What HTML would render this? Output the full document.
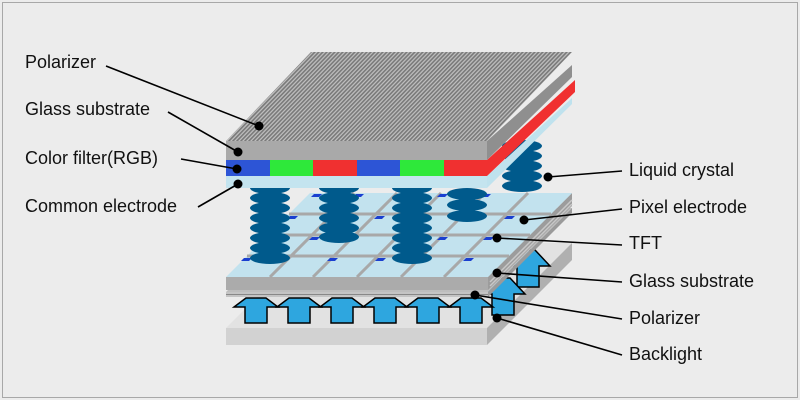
<!DOCTYPE html>
<html><head><style>
html,body{margin:0;padding:0;background:#ececec;}
svg{display:block;}
text{font-family:"Liberation Sans",Arial,sans-serif;font-size:18px;fill:#111;}
</style></head><body>
<svg width="800" height="400" viewBox="0 0 800 400" xmlns="http://www.w3.org/2000/svg">
<defs>
<pattern id="str" width="4" height="10" patternUnits="userSpaceOnUse" patternTransform="skewX(-44)">
<rect width="4" height="10" fill="#bdbdbd"/><rect width="2.2" height="10" fill="#7a7a7a"/>
</pattern>
</defs>
<rect x="0" y="0" width="800" height="400" fill="#ececec"/>
<rect x="2.5" y="2.5" width="795" height="395" fill="none" stroke="#a8a8a8" stroke-width="1"/>

<!-- backlight -->
<polygon points="226,328 487,328 572,243 311,243" fill="#e2e2e2"/>
<polygon points="487,328 572,243 572,260 487,345" fill="#b0b0b0"/>
<rect x="226" y="328" width="261" height="17" fill="#d2d2d2"/>

<!-- side arrows -->
<g fill="#2ea6df" stroke="#000" stroke-width="1.5">
<polygon points="521,250 535,250 550,266 539,266 539,287 517,287 517,266 506,266"/>
<polygon points="496,278 510,278 525,294 514,294 514,315 492,315 492,294 481,294"/>
</g>
<!-- lower polarizer -->
<polygon points="226,292 488,292 572,208 310,208" fill="#bdbdbd"/>
<polygon points="488,292 572,208 572,213 488,297" fill="#9a9a9a"/>
<rect x="226" y="292" width="262" height="5" fill="#c4c4c4"/>
<line x1="226" y1="294.5" x2="488" y2="294.5" stroke="#888" stroke-width="1"/>

<!-- front arrows -->
<g fill="#2ea6df" stroke="#000" stroke-width="1.5">
<polygon points="246,298 266,298 278,307 267,307 267,323 245,323 245,307 234,307"/>
<polygon points="289,298 309,298 321,307 310,307 310,323 288,323 288,307 277,307"/>
<polygon points="332,298 352,298 364,307 353,307 353,323 331,323 331,307 320,307"/>
<polygon points="375,298 395,298 407,307 396,307 396,323 374,323 374,307 363,307"/>
<polygon points="418,298 438,298 450,307 439,307 439,323 417,323 417,307 406,307"/>
<polygon points="461,298 481,298 493,307 482,307 482,323 460,323 460,307 449,307"/>
</g>

<!-- lower glass -->
<polygon points="488,277 572,193 572,206 488,290" fill="#9c9c9c"/>
<g stroke="#c8c8c8" stroke-width="1.5">
<line x1="490" y1="282" x2="572" y2="200"/>
<line x1="490" y1="286" x2="572" y2="204"/>
</g>
<rect x="226" y="277" width="262" height="13" fill="#ababab"/>
<polygon points="226,277 488,277 572,193 310,193" fill="#c2e2ee"/>
<g stroke="#a8a8a8" stroke-width="3">
<line x1="247" y1="256" x2="509" y2="256"/>
<line x1="268" y1="235" x2="530" y2="235"/>
<line x1="289" y1="214" x2="551" y2="214"/>
<line x1="270" y1="277" x2="354" y2="193"/>
<line x1="313" y1="277" x2="397" y2="193"/>
<line x1="357" y1="277" x2="441" y2="193"/>
<line x1="401" y1="277" x2="485" y2="193"/>
<line x1="444" y1="277" x2="528" y2="193"/>
</g>
<!-- TFT marks -->
<g fill="#1a3fd0">
<polygon points="244,258 252,258 249,261 241,261"/>
<polygon points="330,258 338,258 335,261 327,261"/>
<polygon points="378,258 386,258 383,261 375,261"/>
<polygon points="466,258 474,258 471,261 463,261"/>
<polygon points="312,237 320,237 317,240 309,240"/>
<polygon points="398,237 406,237 403,240 395,240"/>
<polygon points="440,237 448,237 445,240 437,240"/>
<polygon points="486,237 494,237 491,240 483,240"/>
<polygon points="290,216 298,216 295,219 287,219"/>
<polygon points="377,216 385,216 382,219 374,219"/>
<polygon points="507,216 515,216 512,219 504,219"/>
<polygon points="314,194 322,194 319,197 311,197"/>
<polygon points="356,194 364,194 361,197 353,197"/>
<polygon points="440,194 448,194 445,197 437,197"/>
<polygon points="483,194 491,194 488,197 480,197"/>
</g>

<!-- liquid crystal stacks -->
<g fill="#005a8c">
<ellipse cx="522" cy="146" rx="20" ry="6"/><ellipse cx="522" cy="156" rx="20" ry="6"/><ellipse cx="522" cy="166" rx="20" ry="6"/><ellipse cx="522" cy="176" rx="20" ry="6"/><ellipse cx="522" cy="186" rx="20" ry="6"/>
<ellipse cx="467" cy="194" rx="20" ry="6"/><ellipse cx="467" cy="205" rx="20" ry="6"/><ellipse cx="467" cy="216" rx="20" ry="6"/>
<ellipse cx="270" cy="188" rx="20" ry="6"/><ellipse cx="270" cy="198" rx="20" ry="6"/><ellipse cx="270" cy="208" rx="20" ry="6"/><ellipse cx="270" cy="218" rx="20" ry="6"/><ellipse cx="270" cy="228" rx="20" ry="6"/><ellipse cx="270" cy="238" rx="20" ry="6"/><ellipse cx="270" cy="248" rx="20" ry="6"/><ellipse cx="270" cy="258" rx="20" ry="6"/>
<ellipse cx="339" cy="188" rx="20" ry="6"/><ellipse cx="339" cy="198" rx="20" ry="6"/><ellipse cx="339" cy="208" rx="20" ry="6"/><ellipse cx="339" cy="218" rx="20" ry="6"/><ellipse cx="339" cy="228" rx="20" ry="6"/><ellipse cx="339" cy="237" rx="20" ry="6"/>
<ellipse cx="412" cy="188" rx="20" ry="6"/><ellipse cx="412" cy="198" rx="20" ry="6"/><ellipse cx="412" cy="208" rx="20" ry="6"/><ellipse cx="412" cy="218" rx="20" ry="6"/><ellipse cx="412" cy="228" rx="20" ry="6"/><ellipse cx="412" cy="238" rx="20" ry="6"/><ellipse cx="412" cy="248" rx="20" ry="6"/><ellipse cx="412" cy="258" rx="20" ry="6"/>
</g>

<!-- common electrode -->
<polygon points="487,176 572,98 572,104 487,188" fill="#bfe2ee"/>
<rect x="226" y="176" width="261" height="12" fill="#c4e4ef"/>
<!-- color filter -->
<polygon points="487,160 575,80 575,92 487,176" fill="#f03030"/>
<rect x="226" y="160" width="44" height="16" fill="#2d55d6"/>
<rect x="270" y="160" width="43" height="16" fill="#2ee83a"/>
<rect x="313" y="160" width="44" height="16" fill="#f03030"/>
<rect x="357" y="160" width="43" height="16" fill="#2d55d6"/>
<rect x="400" y="160" width="44" height="16" fill="#2ee83a"/>
<rect x="444" y="160" width="43" height="16" fill="#f03030"/>
<!-- glass substrate -->
<polygon points="487,141 572,65 572,77 487,160" fill="#8f8f8f"/>
<rect x="226" y="141" width="261" height="19" fill="#a9a9a9"/>
<!-- polarizer -->
<polygon points="226,141 487,141 572,52 311,52" fill="url(#str)"/>

<!-- leaders -->
<g stroke="#000" stroke-width="1.6" fill="none">
<line x1="106" y1="66" x2="259" y2="126"/>
<line x1="168" y1="112" x2="238" y2="152"/>
<line x1="181" y1="159" x2="237" y2="169"/>
<line x1="198" y1="207" x2="238" y2="184"/>
<line x1="548" y1="177" x2="622" y2="171"/>
<line x1="524" y1="220" x2="622" y2="209"/>
<line x1="497" y1="238" x2="622" y2="245"/>
<line x1="497" y1="273" x2="622" y2="282"/>
<line x1="475" y1="295" x2="622" y2="319"/>
<line x1="497" y1="318" x2="622" y2="355"/>
</g>
<g fill="#000">
<circle cx="259" cy="126" r="4.5"/><circle cx="238" cy="152" r="4.5"/><circle cx="237" cy="169" r="4.5"/><circle cx="238" cy="184" r="4.5"/>
<circle cx="548" cy="177" r="4.5"/><circle cx="524" cy="220" r="4.5"/><circle cx="497" cy="238" r="4.5"/><circle cx="497" cy="273" r="4.5"/><circle cx="475" cy="295" r="4.5"/><circle cx="497" cy="318" r="4.5"/>
</g>

<text x="25" y="68">Polarizer</text>
<text x="25" y="115">Glass substrate</text>
<text x="25" y="164">Color filter(RGB)</text>
<text x="25" y="212">Common electrode</text>
<text x="629" y="176">Liquid crystal</text>
<text x="629" y="213">Pixel electrode</text>
<text x="629" y="249">TFT</text>
<text x="629" y="287">Glass substrate</text>
<text x="629" y="324">Polarizer</text>
<text x="629" y="360">Backlight</text>
</svg>
</body></html>
